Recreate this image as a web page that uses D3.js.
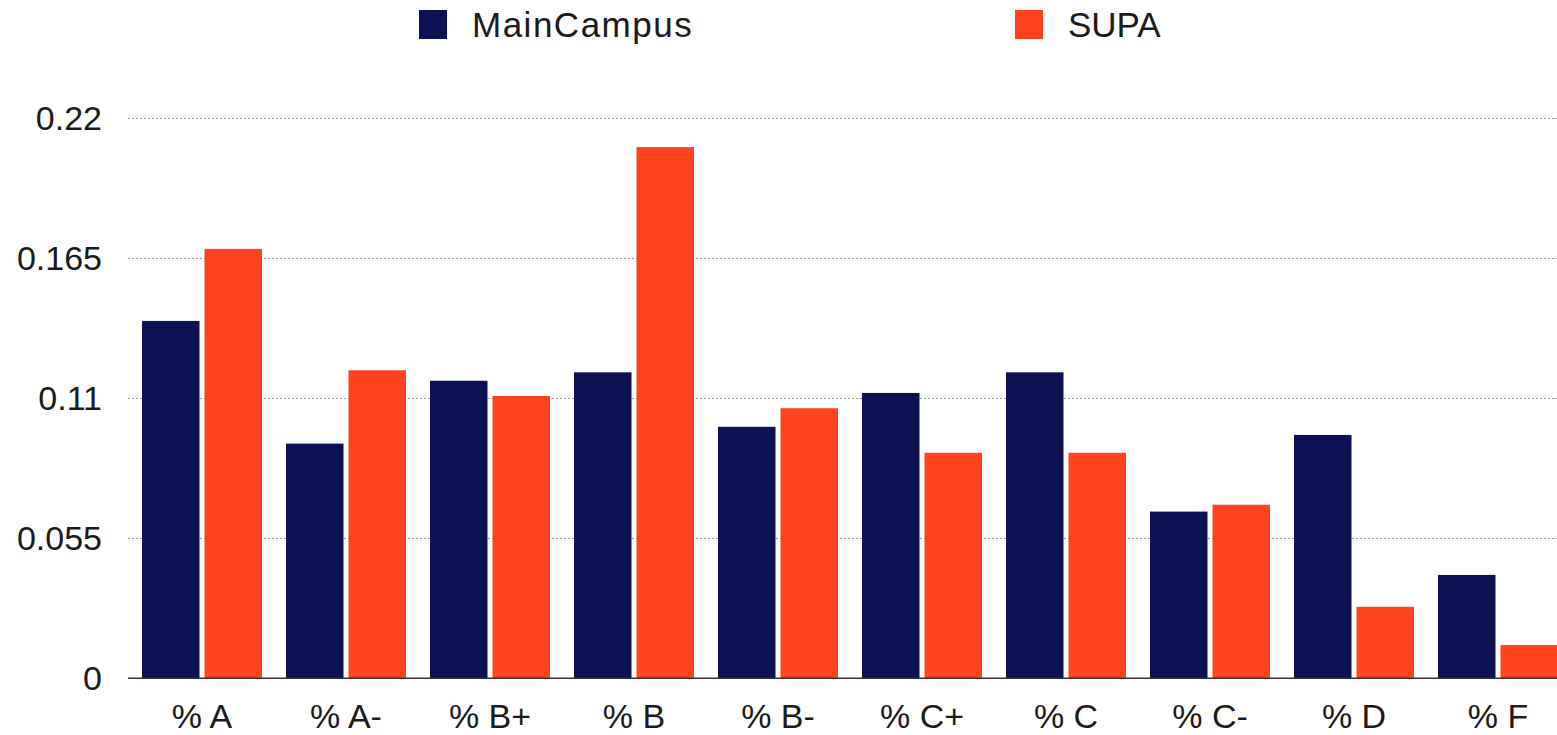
<!DOCTYPE html>
<html>
<head>
<meta charset="utf-8">
<script src="https://cdn.jsdelivr.net/npm/d3@7"></script>
<style>
  html, body { margin: 0; padding: 0; background: #fff; overflow: hidden; }
  svg { display: block; font-family: "Liberation Sans", Arial, Helvetica, sans-serif; }
</style>
</head>
<body>
<svg id="chart" width="1557" height="735"></svg>
<script>
const categories = ["% A", "% A-", "% B+", "% B", "% B-", "% C+", "% C", "% C-", "% D", "% F"];
const seriesNames = ["MainCampus", "SUPA"];
const mainCampus = [0.1404, 0.0922, 0.1169, 0.1202, 0.0988, 0.1121, 0.1202, 0.0655, 0.0956, 0.0406];
const supa = [0.1687, 0.1210, 0.1109, 0.2087, 0.1061, 0.0886, 0.0886, 0.0682, 0.0281, 0.0131];
const yTicks = [0, 0.055, 0.11, 0.165, 0.22];
const yTickLabels = ["0", "0.055", "0.11", "0.165", "0.22"];
const colors = ["#0b1152", "#fd441e"];

const seriesValues = [mainCampus, supa];
const svg = d3.select("#chart");

const y = d3.scaleLinear().domain([0, 0.22]).range([678.3, 118.3]);
const x0 = d3.scaleBand().domain(categories).range([130, 1570]).paddingInner(1/6).paddingOuter(1/12);
const x1 = d3.scaleBand().domain(seriesNames).range([0, x0.bandwidth()]).paddingInner(0.08);
const color = d3.scaleOrdinal().domain(seriesNames).range(colors);

// gridlines
svg.append("g").selectAll("line").data(yTicks.filter(d => d > 0)).join("line")
  .attr("x1", 128).attr("x2", 1557)
  .attr("y1", d => Math.round(y(d)) + 0.5).attr("y2", d => Math.round(y(d)) + 0.5)
  .attr("stroke", "#9a9a9a").attr("stroke-width", 1.2).attr("stroke-dasharray", "2,2");

// bars
const groups = svg.append("g").selectAll("g").data(categories).join("g")
  .attr("transform", d => `translate(${x0(d)},0)`);
groups.selectAll("rect").data((c, i) => seriesNames.map((s, k) => ({ s, v: seriesValues[k][i] })))
  .join("rect")
  .attr("x", d => x1(d.s))
  .attr("width", x1.bandwidth())
  .attr("y", d => y(d.v))
  .attr("height", d => y(0) - y(d.v))
  .attr("fill", d => color(d.s));

// baseline
svg.append("line").attr("x1", 128).attr("x2", 1557)
  .attr("y1", y(0)).attr("y2", y(0))
  .attr("stroke", "#333").attr("stroke-width", 1.5);

// y axis labels
const yAxis = d3.axisLeft(y).tickValues(yTicks).tickFormat((d, i) => yTickLabels[i]).tickSize(0).tickPadding(0);
const yg = svg.append("g").attr("transform", "translate(102,0)").call(yAxis);
yg.select(".domain").remove();
yg.selectAll("text").attr("font-size", 34).attr("fill", "#1a1a1a")
  .attr("font-family", "'Liberation Sans', Arial, sans-serif");

// x axis labels
const xAxis = d3.axisBottom(x0).tickSize(0).tickPadding(0);
const xg = svg.append("g").attr("transform", "translate(0,0)").call(xAxis);
xg.select(".domain").remove();
xg.selectAll("text").attr("font-size", 34).attr("fill", "#1a1a1a")
  .attr("font-family", "'Liberation Sans', Arial, sans-serif")
  .attr("y", 728).attr("dy", 0);

// legend
const legendX = [419, 1015];
const legend = svg.append("g").selectAll("g").data(seriesNames).join("g")
  .attr("transform", (d, i) => `translate(${legendX[i]},10)`);
legend.append("rect").attr("width", 28).attr("height", 29).attr("fill", d => color(d));
legend.append("text").attr("x", 53).attr("y", 27)
  .attr("font-size", 35).attr("fill", "#1a1a1a")
  .attr("letter-spacing", (d, i) => i === 0 ? 1.5 : 0)
  .text(d => d);
</script>
</body>
</html>
